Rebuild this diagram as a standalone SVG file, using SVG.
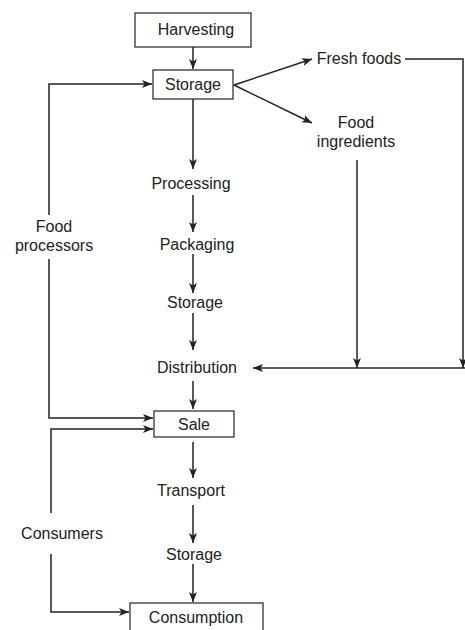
<svg xmlns="http://www.w3.org/2000/svg" width="465" height="630" viewBox="0 0 465 630">
<defs>
<style>
.box{fill:#fff;stroke:#333;stroke-width:1.3}
.t{font-family:"Liberation Sans",Arial,sans-serif;font-size:16px;fill:#222;text-anchor:middle}
.c{fill:none;stroke:#222;stroke-width:1.5}
</style>
<marker id="ah" viewBox="0 0 10 8" refX="10" refY="4" markerWidth="10" markerHeight="8" markerUnits="userSpaceOnUse" orient="auto">
<path d="M0,0 L10,4 L0,8 L2.5,4 Z" fill="#222"/>
</marker>
</defs>
<rect width="465" height="630" fill="#fff"/>
<g id="connectors">
<path class="c" d="M193,47 V69" marker-end="url(#ah)"/>
<path class="c" d="M234,85 L312,59" marker-end="url(#ah)"/>
<path class="c" d="M234,85 L312,123" marker-end="url(#ah)"/>
<path class="c" d="M405,59 H463 V368" marker-end="url(#ah)"/>
<path class="c" d="M357,160 V368" marker-end="url(#ah)"/>
<path class="c" d="M465,368 H253" marker-end="url(#ah)"/>
<path class="c" d="M193,99 V169" marker-end="url(#ah)"/>
<path class="c" d="M193,195 V232" marker-end="url(#ah)"/>
<path class="c" d="M193,254 V293" marker-end="url(#ah)"/>
<path class="c" d="M193,313 V350" marker-end="url(#ah)"/>
<path class="c" d="M193,381 V409" marker-end="url(#ah)"/>
<path class="c" d="M193,442 V478" marker-end="url(#ah)"/>
<path class="c" d="M193,505 V543" marker-end="url(#ah)"/>
<path class="c" d="M193,564 V602" marker-end="url(#ah)"/>
<path class="c" d="M49,215 V84 H152" marker-end="url(#ah)"/>
<path class="c" d="M49,259 V418 H153" marker-end="url(#ah)"/>
<path class="c" d="M51,513 V429 H153" marker-end="url(#ah)"/>
<path class="c" d="M51,554 V612 H129" marker-end="url(#ah)"/>
</g>
<g id="harvesting"><rect class="box" x="135" y="13" width="116" height="34"/><text class="t" x="196" y="35">Harvesting</text></g>
<g id="storage1"><rect class="box" x="153" y="70" width="80" height="29"/><text class="t" x="193" y="90">Storage</text></g>
<g id="freshfoods"><text class="t" x="359" y="64">Fresh foods</text></g>
<g id="foodingredients"><text class="t" x="356" y="128">Food</text><text class="t" x="356" y="147">ingredients</text></g>
<g id="processing"><text class="t" x="191" y="189">Processing</text></g>
<g id="packaging"><text class="t" x="197" y="250">Packaging</text></g>
<g id="storage2"><text class="t" x="195" y="308">Storage</text></g>
<g id="distribution"><text class="t" x="197" y="373">Distribution</text></g>
<g id="foodprocessors"><text class="t" x="54" y="232">Food</text><text class="t" x="54" y="251">processors</text></g>
<g id="sale"><rect class="box" x="154" y="411" width="80" height="26"/><text class="t" x="194" y="430">Sale</text></g>
<g id="transport"><text class="t" x="191" y="496">Transport</text></g>
<g id="storage3"><text class="t" x="194" y="560">Storage</text></g>
<g id="consumers"><text class="t" x="62" y="539">Consumers</text></g>
<g id="consumption"><rect class="box" x="130" y="603" width="133" height="34"/><text class="t" x="196" y="623">Consumption</text></g>
</svg>
